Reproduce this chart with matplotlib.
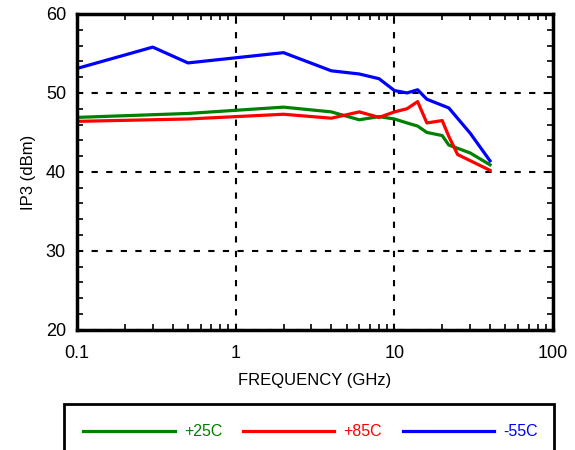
import matplotlib
matplotlib.use("Agg")
import matplotlib.pyplot as plt
from matplotlib.ticker import LogLocator, FuncFormatter, MultipleLocator
from matplotlib.patches import Rectangle

plt.rcParams['font.family'] = ['Liberation Sans', 'DejaVu Sans']

# IP3 vs frequency at three temperatures
freq_25 = [0.1, 0.5, 2, 4, 6, 8, 10, 12, 14, 16, 20, 22, 30, 40]
ip3_25 = [46.9, 47.4, 48.2, 47.6, 46.6, 47.0, 46.7, 46.2, 45.8, 45.0, 44.6, 43.4, 42.4, 40.9]

freq_85 = [0.1, 0.5, 1, 2, 4, 6, 8, 10, 12, 14, 16, 20, 22, 25, 40]
ip3_85 = [46.4, 46.7, 47.0, 47.3, 46.8, 47.6, 46.9, 47.6, 48.0, 48.9, 46.2, 46.5, 44.5, 42.2, 40.2]

freq_m55 = [0.1, 0.3, 0.5, 2, 4, 6, 8, 10, 12, 14, 16, 22, 30, 40]
ip3_m55 = [53.1, 55.8, 53.8, 55.1, 52.8, 52.4, 51.8, 50.3, 50.0, 50.4, 49.2, 48.1, 44.9, 41.4]

labels = ['+25C', '+85C', '-55C']
colors = ['#008000', '#ff0000', '#0000ff']

fig = plt.figure(figsize=(5.75, 4.5), dpi=100)
ax = fig.add_axes([0.134, 0.267, 0.828, 0.702])

for f, v, lab, c in zip([freq_25, freq_85, freq_m55], [ip3_25, ip3_85, ip3_m55], labels, colors):
    ax.plot(f, v, color=c, lw=2.3, label=lab)

ax.set_xscale('log')
ax.set_xlim(0.1, 100)
ax.set_ylim(20, 60)
ax.xaxis.set_major_locator(LogLocator(base=10))
ax.xaxis.set_minor_locator(LogLocator(base=10, subs=range(2, 10)))
ax.xaxis.set_major_formatter(FuncFormatter(lambda x, p: '%g' % x))
ax.yaxis.set_major_locator(MultipleLocator(10))
ax.yaxis.set_minor_locator(MultipleLocator(2))

ax.grid(True, which='major', color='black', linestyle=(0, (3, 4)), lw=1.5)
for s in ax.spines.values():
    s.set_linewidth(2.5)
ax.tick_params(which='both', direction='in', top=True, right=True, width=1.2, labelsize=13)
ax.tick_params(which='minor', length=4)
ax.tick_params(axis='x', which='major', length=4, pad=11)
ax.tick_params(axis='y', which='major', length=4, pad=8)

ax.set_xlabel('FREQUENCY (GHz)', fontsize=12, labelpad=8)
ax.set_ylabel('IP3 (dBm)', fontsize=12, labelpad=7)

handles, labs = ax.get_legend_handles_labels()
fig.legend(handles, labs, loc='center', bbox_to_anchor=(0.54, 1 - 432 / 450), ncol=3,
           frameon=False, handlelength=5.7, handletextpad=0.58, columnspacing=1.3,
           fontsize=11.5, labelcolor='linecolor')
fig.patches.append(Rectangle((0.111, -0.05), 0.852, 0.152, transform=fig.transFigure,
                             fill=False, edgecolor='black', lw=2, clip_on=False))

fig.savefig('out.png', dpi=100)
